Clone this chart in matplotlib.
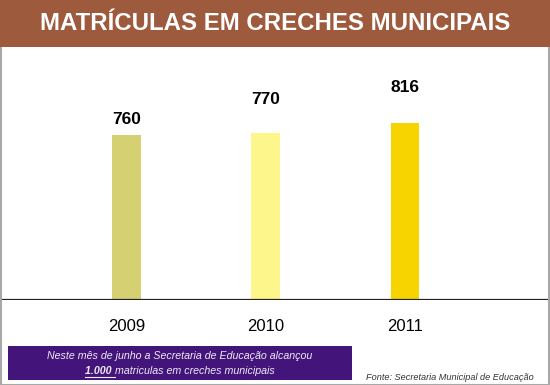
import matplotlib
matplotlib.use('Agg')
import matplotlib.pyplot as plt
from matplotlib.patches import Rectangle

plt.rcParams['font.family'] = ['Liberation Sans', 'DejaVu Sans']

# data
years = ['2009', '2010', '2011']
matriculas = [760, 770, 816]
bar_colors = ['#d5d071', '#fcf68b', '#f7d300']
label_offsets = [70, 155, 162]  # value labels are not placed evenly in the original

title = 'MATRÍCULAS EM CRECHES MUNICIPAIS'
note_line1 = 'Neste mês de junho a Secretaria de Educação alcançou'
note_bold = '1.000 '
note_rest = 'matriculas em creches municipais'
fonte = 'Fonte: Secretaria Municipal de Educação'

W, H = 550, 385
fig = plt.figure(figsize=(5.5, 3.85), dpi=100)
fig.patch.set_facecolor('white')

# gray frame and brown title band
fig.add_artist(Rectangle((0.5 / W, 0.5 / H), 548 / W, 383 / H, transform=fig.transFigure,
                         facecolor='none', edgecolor='#a8a8a8', lw=1.5))
fig.add_artist(Rectangle((0, 1 - 47 / H), 1, 47 / H, transform=fig.transFigure,
                         facecolor='#9d5a3d', edgecolor='none'))
fig.text(275 / W, 1 - 24 / H, title, color='white', fontsize=17.3, fontweight='bold',
         ha='center', va='center')

# bar chart
ax = fig.add_axes([1 / W, 85 / H, 547 / W, 253 / H])
x = list(range(len(years)))
ax.bar(x, matriculas, width=0.208, color=bar_colors)
for xi, v, off in zip(x, matriculas, label_offsets):
    ax.text(xi, v + off, str(v), ha='center', va='center', fontsize=12.5, fontweight='bold')
ax.axhline(0, color='#222222', lw=1.6)
ax.set_xlim(-0.901, 3.027)
ax.set_ylim(0, 1165)
ax.set_xticks(x)
ax.set_xticklabels(years, fontsize=12)
ax.tick_params(axis='x', length=0, pad=13.5)
ax.set_yticks([])
for s in ax.spines.values():
    s.set_visible(False)
ax.patch.set_alpha(0)

# purple note box
fig.add_artist(Rectangle((8 / W, 1 - 380 / H), 344 / W, 34 / H, transform=fig.transFigure,
                         facecolor='#43157a', edgecolor='none'))
fig.text(180 / W, 1 - 356 / H, note_line1, color='#f0eaf6', fontsize=7.7, style='italic',
         ha='center', va='center')

# second line: bold underlined number + normal text, centred together
renderer = fig.canvas.get_renderer()
t_bold = fig.text(0, 1 - 371 / H, note_bold, color='#f0eaf6', fontsize=7.7, style='italic',
                  fontweight='bold', ha='left', va='center')
t_rest = fig.text(0, 1 - 371 / H, note_rest, color='#f0eaf6', fontsize=7.7, style='italic',
                  ha='left', va='center')
wb = t_bold.get_window_extent(renderer).width
wr = t_rest.get_window_extent(renderer).width
x0 = 180 - (wb + wr) / 2
t_bold.set_x(x0 / W)
t_rest.set_x((x0 + wb) / W)
fig.add_artist(plt.Line2D([x0 / W, (x0 + wb) / W], [1 - 377 / H, 1 - 377 / H],
                          transform=fig.transFigure, color='#f0eaf6', lw=0.8))

fig.text(534 / W, 1 - 377 / H, fonte, color='#333333', fontsize=6.6, style='italic',
         ha='right', va='center')

fig.savefig('out.png', dpi=100)
